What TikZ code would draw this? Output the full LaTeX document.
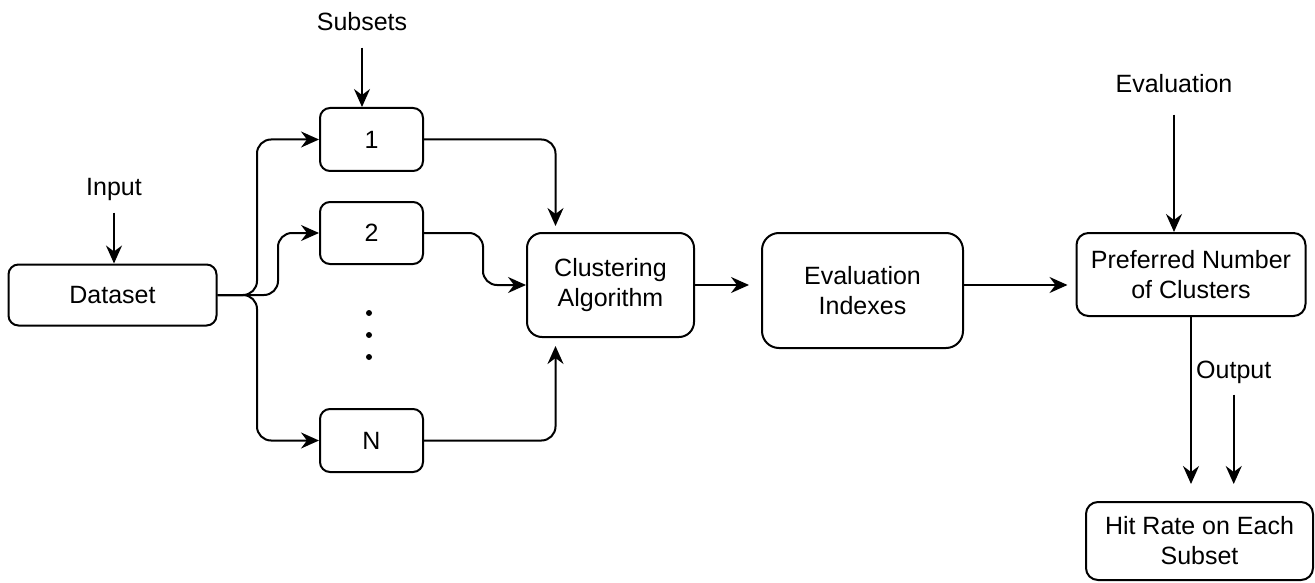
\documentclass[tikz,border=0pt]{standalone}
\usepackage{fontspec}
\setmainfont{Liberation Sans}
\usetikzlibrary{arrows.meta}
\tikzset{
	box/.style={draw, line width=2pt, rounded corners=#1, align=center, inner sep=0pt},
	box/.default=10pt,
	link/.style={line width=2pt, rounded corners=14pt, -{Stealth[length=18pt,width=16pt,inset=6pt]}},
	lbl/.style={inner sep=0pt, text height=18pt, text depth=5pt}
}

\begin{document}
\begin{tikzpicture}[x=1pt, y=-1pt, font=\fontsize{25}{30}\selectfont]
			%%%%% START %%%%%
			\useasboundingbox (0, 0) rectangle (1315, 583);
			
			\node[lbl] (inputlbl) at (114, 189) {Input};
			\node[lbl] (subsetslbl) at (362, 24) {Subsets};
			\node[lbl] (evallbl) at (1174, 86) {Evaluation};
			\node[lbl, anchor=west] (outputlbl) at (1196, 372) {Output};
			
			\node[box=10pt, minimum width=208pt, minimum height=61pt] (dataset) at (112.5, 295) {Dataset};
			
			\node[box=10pt, minimum width=103pt, minimum height=63pt] (subone) at (371.5, 139.5) {1};
			\node[box=10pt, minimum width=103pt, minimum height=62pt] (subtwo) at (371.5, 233) {2};
			\node[box=10pt, minimum width=103pt, minimum height=63pt] (subn) at (371.5, 440.5) {N};
			\foreach \y in {313, 335, 357}
				\fill (369, \y) circle (3pt);
			
			\node[box=15pt, minimum width=167pt, minimum height=104pt] (cluster) at (610.5, 285) {Clustering\\Algorithm};
			\node[box=17pt, minimum width=201pt, minimum height=115pt] (evalidx) at (862.5, 290.5) {Evaluation\\Indexes};
			\node[box=12pt, minimum width=229pt, minimum height=83pt] (prefnum) at (1191, 274.5) {Preferred Number\\of Clusters};
			\node[box=12pt, minimum width=227pt, minimum height=78pt] (hitrate) at (1199.5, 541) {Hit Rate on Each\\Subset};
			
			\coordinate (fork) at (257, 295);
			\coordinate (forktwo) at (278, 295);
			\coordinate (midtwo) at (483, 260);
			
			% labels into boxes
			\draw[link, shorten <=12pt] (inputlbl) -- (inputlbl |- dataset.north);
			\draw[link, shorten <=12pt] (subsetslbl) -- (subsetslbl |- subone.north);
			\draw[link, shorten <=17pt] (evallbl) -- (evallbl |- prefnum.north);
			
			% dataset to subsets
			\draw[link] (dataset.east) -- (fork) |- (subone.west);
			\draw[link] (dataset.east) -- (forktwo) |- (subtwo.west);
			\draw[link] (dataset.east) -- (fork) |- (subn.west);
			
			% subsets to clustering
			\draw[link, shorten >=6pt] (subone.east) -| ([xshift=-55pt]cluster.north);
			\draw[link] (subtwo.east) -| (midtwo) |- (cluster.west);
			\draw[link, shorten >=8pt] (subn.east) -| ([xshift=-55pt]cluster.south);
			
			\draw[link, shorten >=12pt] (cluster.east) -- (cluster.east -| evalidx.west);
			\draw[link, shorten >=8pt] (cluster.east -| evalidx.east) -- (cluster.east -| prefnum.west);
			
			% output
			\draw[link, shorten >=17pt] (prefnum.south) -- (prefnum.south |- hitrate.north);
			\draw[link, shorten <=11pt, shorten >=17pt] (outputlbl) -- (outputlbl |- hitrate.north);
			
			%%%%% END %%%%%
\end{tikzpicture}
\end{document}
